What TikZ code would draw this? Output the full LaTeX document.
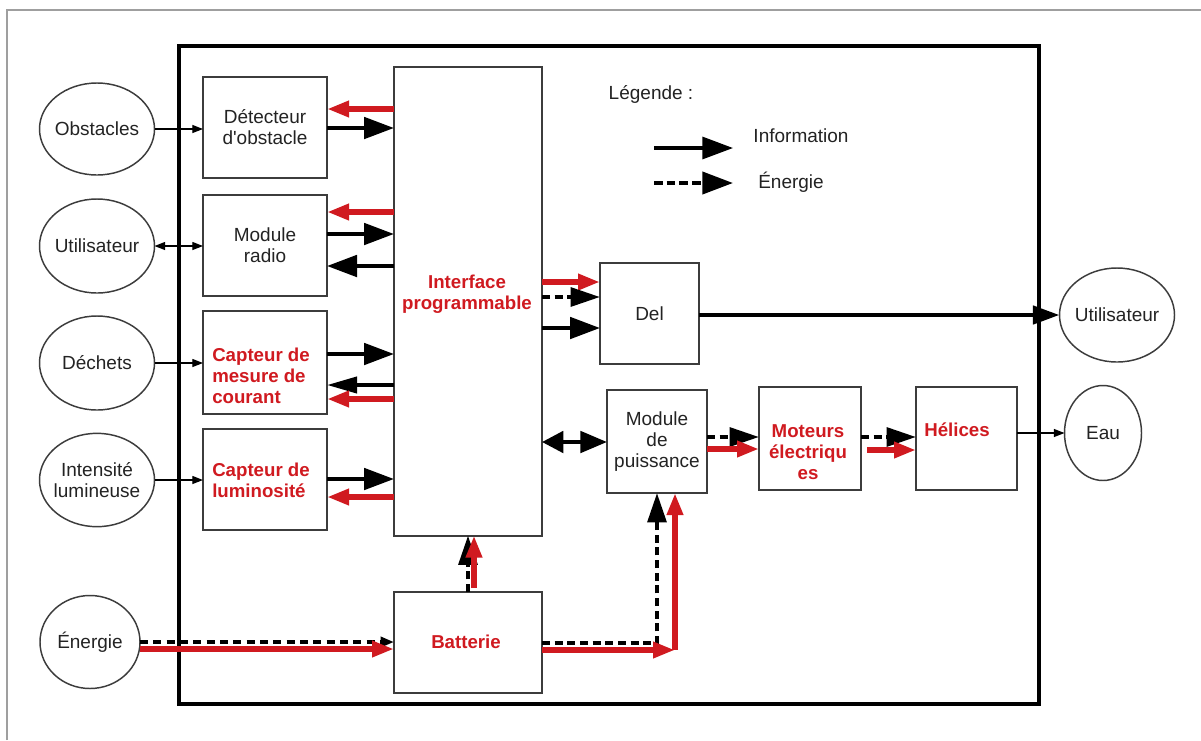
\documentclass[tikz,border=0pt]{standalone}
\usepackage{fontspec}
\setmainfont{Liberation Sans}
\usetikzlibrary{arrows.meta,shapes.geometric}
\definecolor{myred}{RGB}{208,26,32}
\definecolor{txt}{RGB}{35,35,35}
\definecolor{bord}{RGB}{60,60,60}
\begin{document}
\begin{tikzpicture}[x=0.75pt,y=-0.75pt,
  box/.style={draw=bord,line width=1.5pt,fill=white,rectangle,inner sep=0pt,outer sep=0pt,
    font=\fontsize{14.25}{15.75}\selectfont,text=txt,align=center},
  ell/.style={draw=bord,line width=1.1pt,fill=white,ellipse,inner sep=0pt,outer sep=0pt},
  lbl/.style={font=\fontsize{14.25}{15.75}\selectfont,text=txt,align=center,inner sep=0pt},
  rlbl/.style={font=\fontsize{14}{15.75}\selectfont\bfseries,text=myred,align=center,inner sep=0pt},
  blk/.style={line width=3pt,-{Triangle[length=22.5pt,width=16pt]}},
  blks/.style={line width=3pt,-{Triangle[length=22.5pt,width=12pt]}},
  rd/.style={draw=myred,line width=4.5pt,-{Triangle[length=16.5pt,width=11.5pt,fill=myred]}},
  dsh/.style={line width=3pt,dash pattern=on 6pt off 3.5pt,-{Triangle[length=22pt,width=14pt]}},
  dshthin/.style={line width=2.6pt,dash pattern=on 6pt off 4pt,-{Triangle[length=10pt,width=7.5pt]}},
  thinar/.style={line width=0.9pt,-{Triangle[length=8pt,width=6pt]}},
  thinbi/.style={line width=0.9pt,{Triangle[length=8pt,width=6pt]}-{Triangle[length=8pt,width=6pt]}},
  bidir/.style={line width=3pt,{Triangle[length=16pt,width=16pt]}-{Triangle[length=20pt,width=16pt]}},
  legs/.style={line width=2.4pt,-{Triangle[length=23pt,width=16.5pt]}},
  legd/.style={line width=3pt,dash pattern=on 6.5pt off 3pt,-{Triangle[length=23pt,width=16.5pt]}}
]
\useasboundingbox (0,0) rectangle (1201,740);
\fill[white] (0,0) rectangle (1201,740);
\draw[gray!75,line width=0.9pt] (7,740) -- (7,10) -- (1201,10);
\draw[line width=3pt] (179,46) rectangle (1039,704);

% boxes
\node[box,minimum width=93pt,minimum height=75.75pt] (det) at (265,127.5) {Détecteur\\d\textquotesingle obstacle};
\node[box,minimum width=93pt,minimum height=75.75pt] (radio) at (265,245) {Module\\radio};
\node[box,minimum width=93pt,minimum height=77.25pt] (cour) at (265,362.5) {};
\node[box,minimum width=93pt,minimum height=75.75pt] (lum) at (265,479.5) {};
\node[box,minimum width=111pt,minimum height=351.75pt] (inter) at (468,301) {};
\node[box,minimum width=74.25pt,minimum height=75.75pt] (del) at (649.5,313.5) {Del};
\node[box,minimum width=75pt,minimum height=77.25pt] (mp) at (657,441.5) {Module\\de\\puissance};
\node[box,minimum width=76.5pt,minimum height=77.25pt] (mot) at (810,438.5) {};
\node[box,minimum width=75.75pt,minimum height=77.25pt] (hel) at (966.5,438.5) {};
\node[box,minimum width=111pt,minimum height=75.75pt] (bat) at (468,642.5) {};

% red labels
\node[rlbl,anchor=west,align=left] (courl) at (212,376) {Capteur de\\mesure de\\courant};
\node[rlbl,anchor=west,align=left] (luml) at (212,480.5) {Capteur de\\luminosité};
\node[rlbl] (interl) at (467,294) {Interface\\programmable};
\node[rlbl] (motl) at (808,452) {Moteurs\\électriqu\\es};
\node[rlbl] (hell) at (957,430) {Hélices};
\node[rlbl] (batl) at (466,642) {Batterie};

% ellipses
\node[ell,minimum width=86.25pt,minimum height=69pt] (obs) at (97,129) {};
\node[ell,minimum width=86.25pt,minimum height=70.5pt] (uti) at (97,246) {};
\node[ell,minimum width=86.25pt,minimum height=70.5pt] (dec) at (97,363) {};
\node[ell,minimum width=86.25pt,minimum height=70pt] (int) at (97,480) {};
\node[ell,minimum width=75pt,minimum height=69.75pt] (ene) at (90,642) {};
\node[ell,minimum width=86.25pt,minimum height=70.5pt] (utr) at (1117,315) {};
\node[ell,minimum width=57.75pt,minimum height=71.25pt] (eau) at (1103,433) {};
\node[lbl] (obsl) at (obs) {Obstacles};
\node[lbl] (util) at (uti) {Utilisateur};
\node[lbl] (decl) at (dec) {Déchets};
\node[lbl] (intl) at (int) {Intensité\\lumineuse};
\node[lbl] (enel) at (ene) {Énergie};
\node[lbl] (utrl) at (utr) {Utilisateur};
\node[lbl] (eaul) at (eau) {Eau};

% legend
\node[lbl] (legt) at (651,94) {Légende :};
\node[lbl] (linf) at (801,136) {Information};
\node[lbl] (lene) at (791,182) {Énergie};
\coordinate (l1a) at (654,148);
\coordinate (l1b) at (733,148);
\coordinate (l2a) at (654,183);
\coordinate (l2b) at (733,183);
\draw[legs] (l1a) -- (l1b);
\draw[legd] (l2a) -- (l2b);

% external thin arrows
\draw[thinar] (obs.east) -- (det.west |- obs.east);
\draw[thinbi] (uti.east) -- (radio.west |- uti.east);
\draw[thinar] (dec.east) -- (cour.west |- dec.east);
\draw[thinar] (int.east) -- (lum.west |- int.east);

% sensors <-> interface
\draw[rd] (inter.west |- 0,109) -- (det.east |- 0,109);
\draw[blk] (det.east |- 0,128) -- (inter.west |- 0,128);
\draw[rd] (inter.west |- 0,212) -- (radio.east |- 0,212);
\draw[blk] (radio.east |- 0,234) -- (inter.west |- 0,234);
\draw[blk] (inter.west |- 0,266) -- (radio.east |- 0,266);
\draw[blk] (cour.east |- 0,354) -- (inter.west |- 0,354);
\draw[blks] (inter.west |- 0,385) -- (cour.east |- 0,385);
\draw[rd] (inter.west |- 0,399) -- (cour.east |- 0,399);
\draw[blk] (lum.east |- 0,479) -- (inter.west |- 0,479);
\draw[rd] (inter.west |- 0,497) -- (lum.east |- 0,497);

% interface -> del
\draw[rd] (inter.east |- 0,282) -- (del.west |- 0,282);
\draw[dsh] (inter.east |- 0,297) -- (del.west |- 0,297);
\draw[blk] (inter.east |- 0,328) -- (del.west |- 0,328);
\draw[line width=3.5pt,-{Triangle[length=20pt,width=13.5pt]}] (del.east |- utr.west) -- (utr.west);

% power chain
\draw[bidir] (inter.east |- 0,442) -- (mp.west |- 0,442);
\draw[dsh] (mp.east |- 0,437) -- (mot.west |- 0,437);
\draw[rd] (mp.east |- 0,449) -- (mot.west |- 0,449);
\draw[dsh] (mot.east |- 0,437) -- (hel.west |- 0,437);
\draw[rd] ([xshift=4.5pt]mot.east |- 0,450) -- (hel.west |- 0,450);
\draw[thinar] (hel.east |- eau.west) -- (eau.west);

% battery
\draw[dsh] (bat.north -| 468,0) -- (inter.south -| 468,0);
\draw[rd] ([yshift=3pt]bat.north -| 474,0) -- (inter.south -| 474,0);
\draw[dshthin] (ene.east |- 0,642) -- (bat.west |- 0,642);
\draw[rd] (ene.east |- 0,649) -- (bat.west |- 0,649);
\coordinate (c1) at (657,643);
\coordinate (c2) at (675,650);
\draw[dsh] (bat.east |- c1) -- (c1) -- (mp.south -| c1);
\draw[rd] (bat.east |- c2) -- (c2);
\draw[rd] (c2) -- (mp.south -| c2);
\end{tikzpicture}
\end{document}
